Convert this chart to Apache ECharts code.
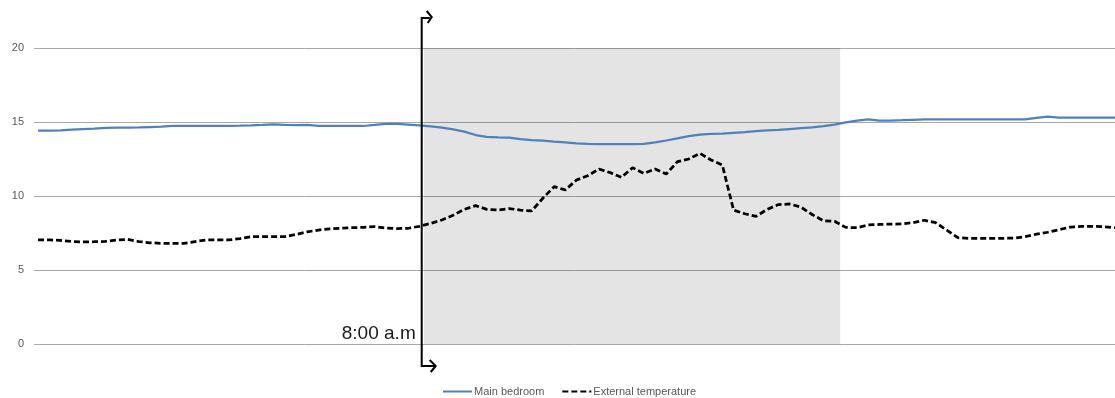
<!DOCTYPE html>
<html>
<head>
<meta charset="utf-8">
<script src="https://cdn.jsdelivr.net/npm/echarts@6/dist/echarts.min.js"></script>
<style>
  html, body { margin: 0; padding: 0; background: #ffffff; }
  #chart { width: 1115px; height: 398px; }
</style>
</head>
<body>
<div id="chart"></div>
<script>
// 15-minute readings, °C
const bedroom = [
  14.41, 14.41, 14.44, 14.49, 14.52, 14.55, 14.60, 14.62, 14.62, 14.63,
  14.66, 14.69, 14.73, 14.74, 14.74, 14.74, 14.74, 14.74, 14.75, 14.77,
  14.80, 14.84, 14.80, 14.79, 14.80, 14.74, 14.73, 14.73, 14.73, 14.73,
  14.80, 14.88, 14.88, 14.83, 14.77, 14.70, 14.62, 14.50, 14.35, 14.12,
  14.00, 13.96, 13.95, 13.85, 13.77, 13.74, 13.67, 13.62, 13.56, 13.53,
  13.51, 13.50, 13.50, 13.50, 13.52, 13.62, 13.75, 13.90, 14.05, 14.15,
  14.19, 14.21, 14.27, 14.32, 14.38, 14.43, 14.46, 14.52, 14.58, 14.63,
  14.72, 14.82, 14.98, 15.10, 15.18, 15.09, 15.10, 15.12, 15.15, 15.18,
  15.18, 15.18, 15.18, 15.18, 15.18, 15.18, 15.18, 15.18, 15.18, 15.28,
  15.37, 15.30, 15.29, 15.30, 15.30, 15.30, 15.30
];
const external = [
  7.03, 7.03, 7.00, 6.93, 6.90, 6.91, 6.93, 7.02, 7.07, 6.92,
  6.84, 6.80, 6.80, 6.80, 6.92, 7.03, 7.03, 7.03, 7.12, 7.25,
  7.26, 7.26, 7.25, 7.40, 7.58, 7.70, 7.78, 7.82, 7.86, 7.88,
  7.93, 7.84, 7.80, 7.82, 7.95, 8.15, 8.38, 8.70, 9.10, 9.35,
  9.10, 9.05, 9.15, 9.05, 8.99, 9.85, 10.63, 10.41, 11.08, 11.37,
  11.82, 11.58, 11.26, 11.91, 11.53, 11.82, 11.49, 12.32, 12.50, 12.88,
  12.43, 12.09, 9.05, 8.80, 8.62, 9.10, 9.42, 9.46, 9.25, 8.75,
  8.33, 8.29, 7.88, 7.86, 8.04, 8.08, 8.10, 8.11, 8.20, 8.36,
  8.20, 7.70, 7.18, 7.14, 7.14, 7.14, 7.14, 7.16, 7.25, 7.42,
  7.55, 7.72, 7.90, 7.95, 7.95, 7.92, 7.86
];
const seriesNames = ['Main bedroom', 'External temperature'];
const yTicks = [0, 5, 10, 15, 20];

// positions on the reading index axis
const eightAm = 34.2;
const dayBand = [34.4, 71.5];
const eightAmLabel = '8:00 a.m';

const toPairs = arr => arr.map((v, i) => [i, v]);

const chart = echarts.init(document.getElementById('chart'), null, { renderer: 'canvas' });

chart.setOption({
  animation: false,
  backgroundColor: '#ffffff',
  grid: { left: 34, right: 0, top: 48, bottom: 54, containLabel: false, outerBoundsMode: 'none' },
  xAxis: {
    type: 'value',
    min: -0.36,
    max: bedroom.length - 1,
    show: false
  },
  yAxis: {
    type: 'value',
    min: yTicks[0],
    max: yTicks[yTicks.length - 1],
    interval: yTicks[1] - yTicks[0],
    axisLine: { show: false },
    axisTick: { show: false },
    axisLabel: { color: '#595959', fontSize: 11, margin: 10, fontFamily: 'Liberation Sans' },
    splitLine: { lineStyle: { color: '#a8a8a8', width: 1 } }
  },
  legend: {
    data: seriesNames,
    left: 442,
    top: 386,
    padding: 0,
    itemWidth: 29,
    itemHeight: 8,
    itemGap: 17,
    itemStyle: { opacity: 0 },
    textStyle: { fontSize: 11, color: '#595959', fontFamily: 'Liberation Sans', padding: [0, 0, 0, -3] }
  },
  series: [
    {
      name: 'daylight',
      type: 'line',
      data: [],
      z: 1,
      silent: true,
      markArea: {
        silent: true,
        itemStyle: { color: 'rgba(0,0,0,0.105)' },
        data: [[{ xAxis: dayBand[0] }, { xAxis: dayBand[1] }]]
      }
    },
    {
      name: seriesNames[0],
      type: 'line',
      data: toPairs(bedroom),
      symbol: 'none',
      z: 3,
      lineStyle: { color: '#4f81bd', width: 2.25 },
      itemStyle: { color: '#4f81bd' }
    },
    {
      name: seriesNames[1],
      type: 'line',
      data: toPairs(external),
      symbol: 'none',
      z: 3,
      lineStyle: { color: '#000000', width: 2.75, type: [6, 3] },
      itemStyle: { color: '#000000' }
    }
  ]
});

// 8:00 a.m. marker: bracket arrow through the plot plus its label
const px = chart.convertToPixel({ xAxisIndex: 0 }, eightAm);
const yTop = chart.convertToPixel({ yAxisIndex: 0 }, yTicks[yTicks.length - 1]) - 30;
const yZero = chart.convertToPixel({ yAxisIndex: 0 }, yTicks[0]);
const yBot = yZero + 22;
const stroke = { stroke: '#000000', lineWidth: 2, fill: null, lineJoin: 'miter' };

chart.setOption({
  graphic: [
    { type: 'polyline', z: 10, shape: { points: [[px + 8, yTop], [px, yTop], [px, yBot], [px + 13, yBot]] }, style: stroke },
    { type: 'polyline', z: 10, shape: { points: [[px + 5, yTop - 7], [px + 10, yTop - 1], [px + 6, yTop + 5]] }, style: stroke },
    { type: 'polyline', z: 10, shape: { points: [[px + 8, yBot - 6], [px + 14, yBot], [px + 9, yBot + 6]] }, style: stroke },
    {
      type: 'text', z: 10,
      x: px - 6, y: yZero - 1,
      style: {
        text: eightAmLabel,
        fill: '#1a1a1a',
        font: '19px "Liberation Sans"',
        align: 'right',
        verticalAlign: 'bottom'
      }
    }
  ]
});
</script>
</body>
</html>
